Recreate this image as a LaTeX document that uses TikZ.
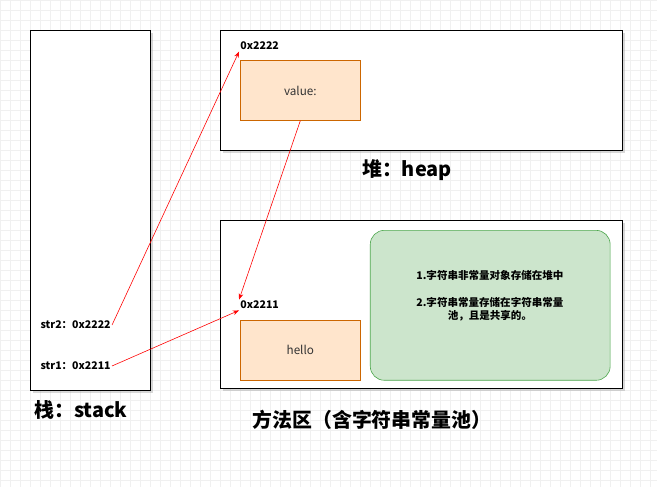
\documentclass[tikz,border=0pt]{standalone}
\usepackage{fontspec}
\setmainfont{Noto Sans CJK SC}
\usetikzlibrary{arrows.meta,positioning,shadows}

\begin{document}
\begin{tikzpicture}[x=0.03cm,y=-0.03cm,>=Stealth]
  % --- styles ---
  \tikzset{
    area/.style   = {draw,fill=white,line width=.6pt,drop shadow={shadow xshift=2pt,shadow yshift=-2pt,opacity=.3}},
    obj/.style    = {draw=orange!80!black,fill=orange!20,line width=.5pt,font=\normalsize,text=black!80},
    note/.style   = {draw=green!50!black!70,fill=green!50!black!20,rounded corners=12pt,line width=.5pt},
    addr/.style   = {font=\small\bfseries,inner sep=1pt},
    title/.style  = {font=\fontsize{17}{20}\selectfont\bfseries},
    ref/.style    = {->,red,line width=.5pt}
  }

  % --- background grid ---
  \fill[white] (0,0) rectangle (657,487);
  \draw[black!6,line width=.3pt,step=0.3cm] (0,0) grid (657,487);
  \useasboundingbox (0,0) rectangle (657,487);

  % --- stack ---
  \node[area,minimum width=3.6cm,minimum height=10.8cm,anchor=north west] (stack) at (30,30) {};
  \node[addr,anchor=west] (str2) at (39,325) {str2：0x2222};
  \node[addr,anchor=west] (str1) at (39,366) {str1：0x2211};
  \node[title,anchor=west] (stacklab) at (30,410) {栈：stack};

  % --- heap ---
  \node[area,minimum width=12.06cm,minimum height=3.6cm,anchor=north west] (heap) at (220,30) {};
  \node[addr,anchor=west] (a2222) at (239,46) {0x2222};
  \node[obj,minimum width=3.6cm,minimum height=1.8cm,anchor=north west] (value) at (240,60) {value:};
  \node[title] (heaplab) at (407,170) {堆：heap};

  % --- method area ---
  \node[area,minimum width=12.06cm,minimum height=5.04cm,anchor=north west] (method) at (220,220) {};
  \node[addr,anchor=west] (a2211) at (239,305) {0x2211};
  \node[obj,minimum width=3.6cm,minimum height=1.8cm,anchor=north west] (hello) at (240,320) {hello};
  \node[note,minimum width=7.2cm,minimum height=4.5cm,anchor=north west] (tip) at (370,230) {};
  \node[font=\small\bfseries,align=center] (tiptext) at (490,296)
    {1.字符串非常量对象存储在堆中\\[12pt]2.字符串常量存储在字符串常量\\池，且是共享的。};
  \node[title] (methodlab) at (372,420) {方法区（含字符串常量池）};

  % --- references ---
  \draw[ref] (str2.east) -- (a2222.south west);
  \draw[ref] (str1.east) -- (a2211.south west);
  \draw[ref] (value.south) -- (a2211.north west);
\end{tikzpicture}
\end{document}
